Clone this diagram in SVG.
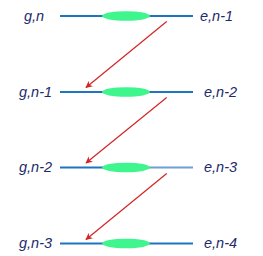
<svg xmlns="http://www.w3.org/2000/svg" width="263" height="256" viewBox="0 0 263 256">
<defs>
<style>
.lbl{font-family:"Liberation Sans",Arial,sans-serif;font-style:italic;font-size:14.5px;fill:#1c2a6b}
.lvl{stroke:#1f74bf;stroke-width:2;fill:none}
.ell{fill:#3ef58e}
.arr{stroke:#d42424;stroke-width:1.2;fill:none;marker-end:url(#ah)}
</style>
<marker id="ah" viewBox="0 0 10 10" refX="9" refY="5" markerWidth="7" markerHeight="7" orient="auto" markerUnits="userSpaceOnUse">
<path d="M0,0 L10,5 L0,10 L3,5 Z" fill="#d42424"/>
</marker>
</defs>
<rect width="263" height="256" fill="#ffffff"/>
<g id="level1">
<line class="lvl" x1="60" y1="16" x2="193" y2="16"/>
<ellipse class="ell" cx="126" cy="16" rx="24" ry="4.8"/>
<text class="lbl" x="24" y="20.5">g,n</text>
<text class="lbl" x="200" y="20.5">e,n-1</text>
</g>
<g id="level2">
<line class="lvl" x1="60" y1="92" x2="193" y2="92"/>
<ellipse class="ell" cx="126" cy="92" rx="24" ry="4.8"/>
<text class="lbl" x="19" y="96.5">g,n-1</text>
<text class="lbl" x="204" y="96.5">e,n-2</text>
</g>
<g id="level3">
<line class="lvl" x1="60" y1="167.5" x2="126" y2="167.5"/>
<line x1="126" y1="167.5" x2="193" y2="167.5" stroke="#6f9fd0" stroke-width="2"/>
<ellipse class="ell" cx="126" cy="167.5" rx="24" ry="4.8"/>
<text class="lbl" x="19" y="172">g,n-2</text>
<text class="lbl" x="204" y="172">e,n-3</text>
</g>
<g id="level4">
<line class="lvl" x1="60" y1="243.5" x2="193" y2="243.5"/>
<ellipse class="ell" cx="126" cy="243.5" rx="24" ry="4.8"/>
<text class="lbl" x="19" y="248">g,n-3</text>
<text class="lbl" x="204" y="248">e,n-4</text>
</g>
<g id="connectors">
<line class="arr" x1="166.7" y1="21.5" x2="86" y2="87.5"/>
<line class="arr" x1="166.7" y1="97.5" x2="86" y2="163"/>
<line class="arr" x1="166.7" y1="173.5" x2="86" y2="239.5"/>
</g>
</svg>
